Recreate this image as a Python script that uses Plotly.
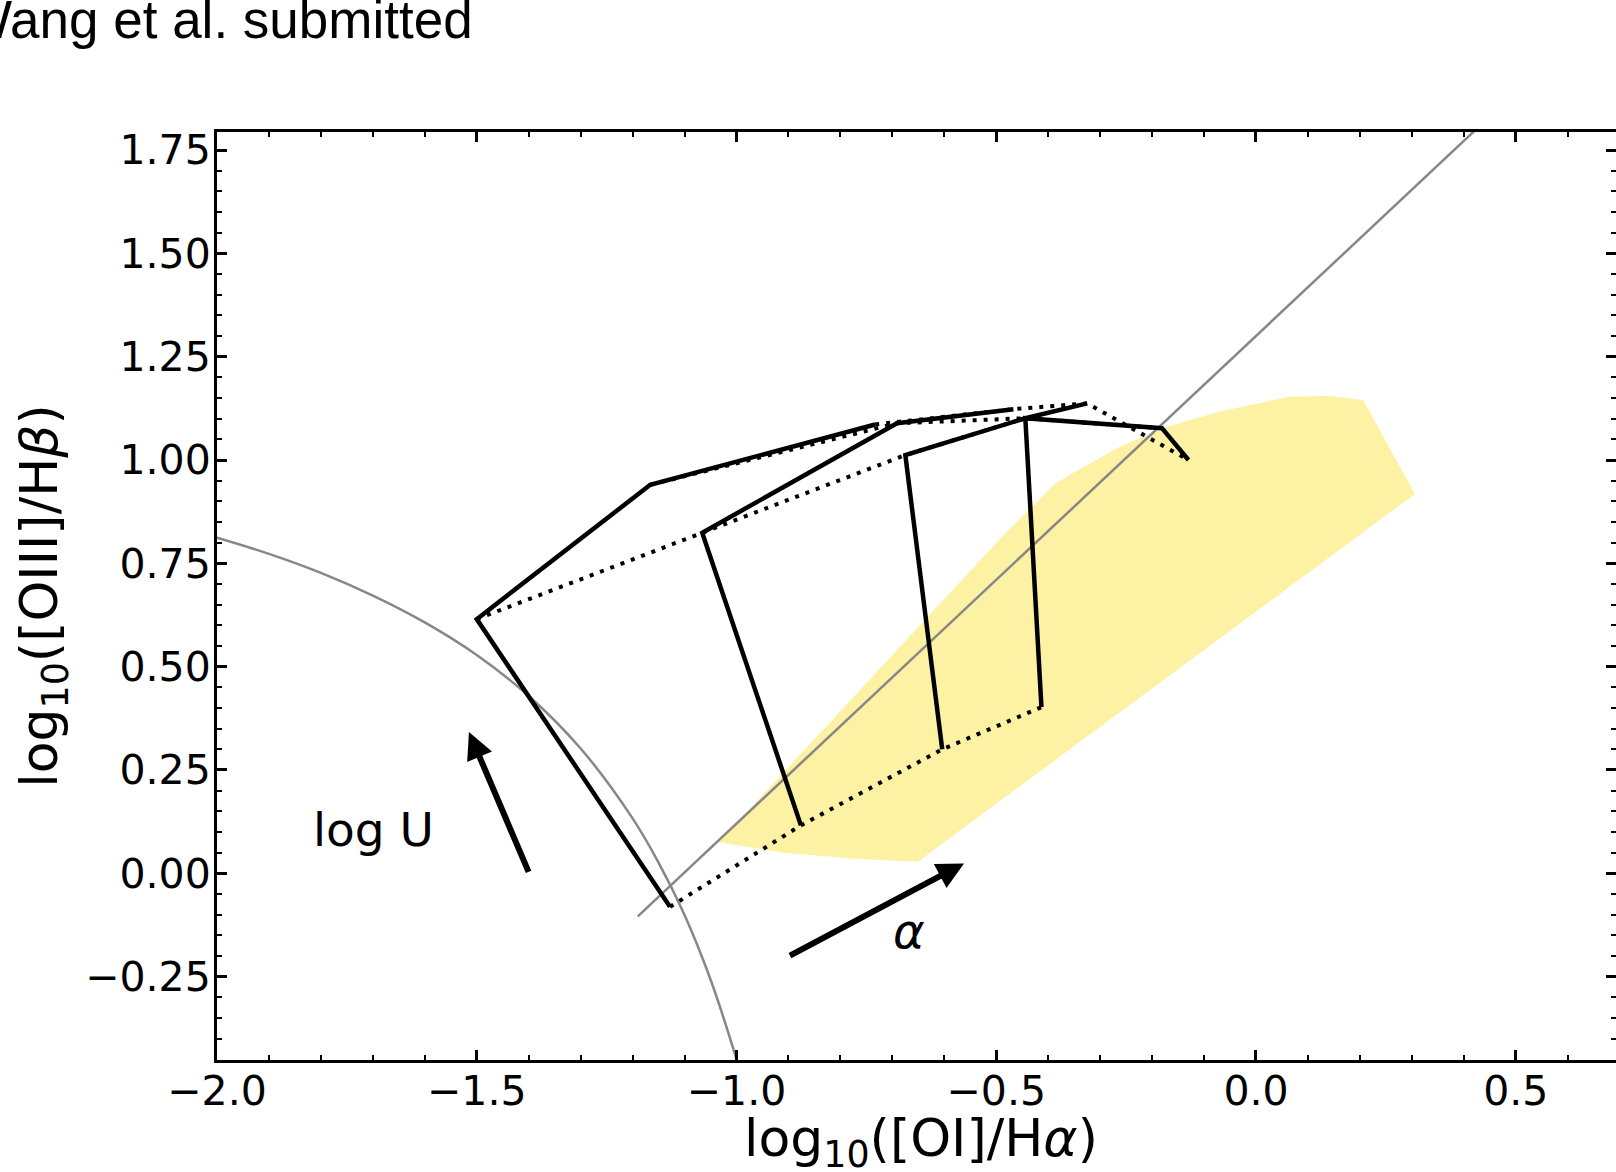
import plotly.graph_objects as go

# ---- data ----
# model grid: four solid tracks (constant alpha), points ordered by increasing log U
track_A_x = [-1.128, -1.500, -1.166, -0.733]
track_A_y = [-0.081, 0.615, 0.940, 1.086]
track_B_x = [-0.876, -1.066, -0.691, -0.467]
track_B_y = [0.116, 0.824, 1.089, 1.123]
track_C_x = [-0.604, -0.675, -0.444, -0.325]
track_C_y = [0.300, 1.012, 1.101, 1.137]
track_D_x = [-0.413, -0.444, -0.181, -0.130]
track_D_y = [0.402, 1.101, 1.077, 1.000]

# Kewley et al. star-forming demarcation (grey curve)
kew_x = [-2.0, -1.9, -1.8, -1.7, -1.6, -1.5, -1.4, -1.3, -1.2, -1.15, -1.1, -1.05, -1.0, -0.99]
kew_y = [0.812, 0.773, 0.727, 0.672, 0.607, 0.528, 0.429, 0.302, 0.133, 0.026, -0.101, -0.257, -0.450, -0.495]

# Seyfert / LINER separation (grey straight line)
sey_x = [-1.19, 0.45]
sey_y = [-0.104, 1.831]

# yellow observed region (polygon outline)
region_x = [-1.034, -0.909, -0.770, -0.651, 0.306, 0.206, 0.143, 0.064, 0.008,
            -0.068, -0.165, -0.260, -0.351, -0.389, -0.492, -1.034]
region_y = [0.075, 0.050, 0.035, 0.028, 0.918, 1.145, 1.155, 1.153, 1.138,
            1.118, 1.083, 1.033, 0.970, 0.940, 0.810, 0.075]

# arrows: (start_x, start_y, end_x, end_y)
arrow_logU = [-1.399, 0.000, -1.515, 0.342]
arrow_alpha = [-0.900, -0.201, -0.562, 0.024]

label_logU = [-1.699, 0.106]
label_alpha = [-0.667, -0.139]

x_range = [-2.0, 0.693]
y_range = [-0.4517, 1.7936]

# ---- figure ----
fig = go.Figure()

fig.add_trace(go.Scatter(x=region_x, y=region_y, mode="lines", fill="toself",
                         fillcolor="rgb(253,241,163)", line=dict(width=0, color="rgba(0,0,0,0)"),
                         hoverinfo="skip"))

fig.add_trace(go.Scatter(x=kew_x, y=kew_y, mode="lines", line=dict(color="#878787", width=2.5, shape="spline"),
                         hoverinfo="skip"))
fig.add_trace(go.Scatter(x=sey_x, y=sey_y, mode="lines", line=dict(color="#878787", width=2.5),
                         hoverinfo="skip"))

tracks_x = [track_A_x, track_B_x, track_C_x, track_D_x]
tracks_y = [track_A_y, track_B_y, track_C_y, track_D_y]

# dotted lines of constant log U (connect the tracks)
for i in range(4):
    fig.add_trace(go.Scatter(x=[tx[i] for tx in tracks_x], y=[ty[i] for ty in tracks_y],
                             mode="lines", line=dict(color="black", width=4, dash="4px,7px"),
                             hoverinfo="skip"))

# solid tracks of constant alpha
for tx, ty in zip(tracks_x, tracks_y):
    fig.add_trace(go.Scatter(x=tx, y=ty, mode="lines", line=dict(color="black", width=4.5),
                             hoverinfo="skip"))

annotations = []
for a in (arrow_logU, arrow_alpha):
    annotations.append(dict(x=a[2], y=a[3], ax=a[0], ay=a[1], xref="x", yref="y", axref="x", ayref="y",
                            text="", showarrow=True, arrowhead=2, arrowsize=0.9, arrowwidth=6,
                            arrowcolor="black", standoff=0, startstandoff=0))

annotations.append(dict(x=label_logU[0], y=label_logU[1], xref="x", yref="y", text="log U",
                        showarrow=False, font=dict(family="DejaVu Sans", size=47, color="black")))
annotations.append(dict(x=label_alpha[0], y=label_alpha[1], xref="x", yref="y", text="<i>α</i>",
                        showarrow=False, font=dict(family="DejaVu Sans", size=48, color="black")))

annotations.append(dict(x=-0.1837, y=1.1217, xref="paper", yref="paper", xanchor="left", yanchor="middle",
                        text="Wang et al. submitted", showarrow=False,
                        font=dict(family="Liberation Sans", size=53, color="black")))

# x-axis title placed as text below the tick labels
annotations.append(dict(x=0.503, y=-0.1275, xref="paper", yref="paper", xanchor="center", yanchor="bottom",
                        text="log<sub>10</sub>([OI]/H<i>α</i>)", showarrow=False,
                        font=dict(family="DejaVu Sans", size=52, color="black")))

axis_common = dict(showline=True, linecolor="black", linewidth=3, mirror="ticks",
                   ticks="inside", ticklen=10, tickwidth=2.5, tickcolor="black",
                   showgrid=False, zeroline=False, automargin=False,
                   tickfont=dict(family="DejaVu Sans", size=41, color="black"))

fig.update_layout(
    width=1616, height=1172,
    margin=dict(l=217, r=0, t=132, b=112, pad=0),
    paper_bgcolor="white", plot_bgcolor="white",
    showlegend=False,
    annotations=annotations,
    xaxis=dict(range=x_range, dtick=0.5, tick0=0, tickformat=".1f", ticklabelstandoff=-7,
               minor=dict(dtick=0.1, tick0=0, ticks="inside", ticklen=5, tickwidth=2, tickcolor="black"),
               **axis_common),
    yaxis=dict(range=y_range, dtick=0.25, tick0=0, tickformat=".2f", ticklabelstandoff=-5,
               minor=dict(dtick=0.05, tick0=0, ticks="inside", ticklen=5, tickwidth=2, tickcolor="black"),
               title=dict(text="log<sub>10</sub>([OIII]/H<i>β</i>)",
                          font=dict(family="DejaVu Sans", size=52, color="black"), standoff=11),
               **axis_common),
)

fig.write_html("out.html")
